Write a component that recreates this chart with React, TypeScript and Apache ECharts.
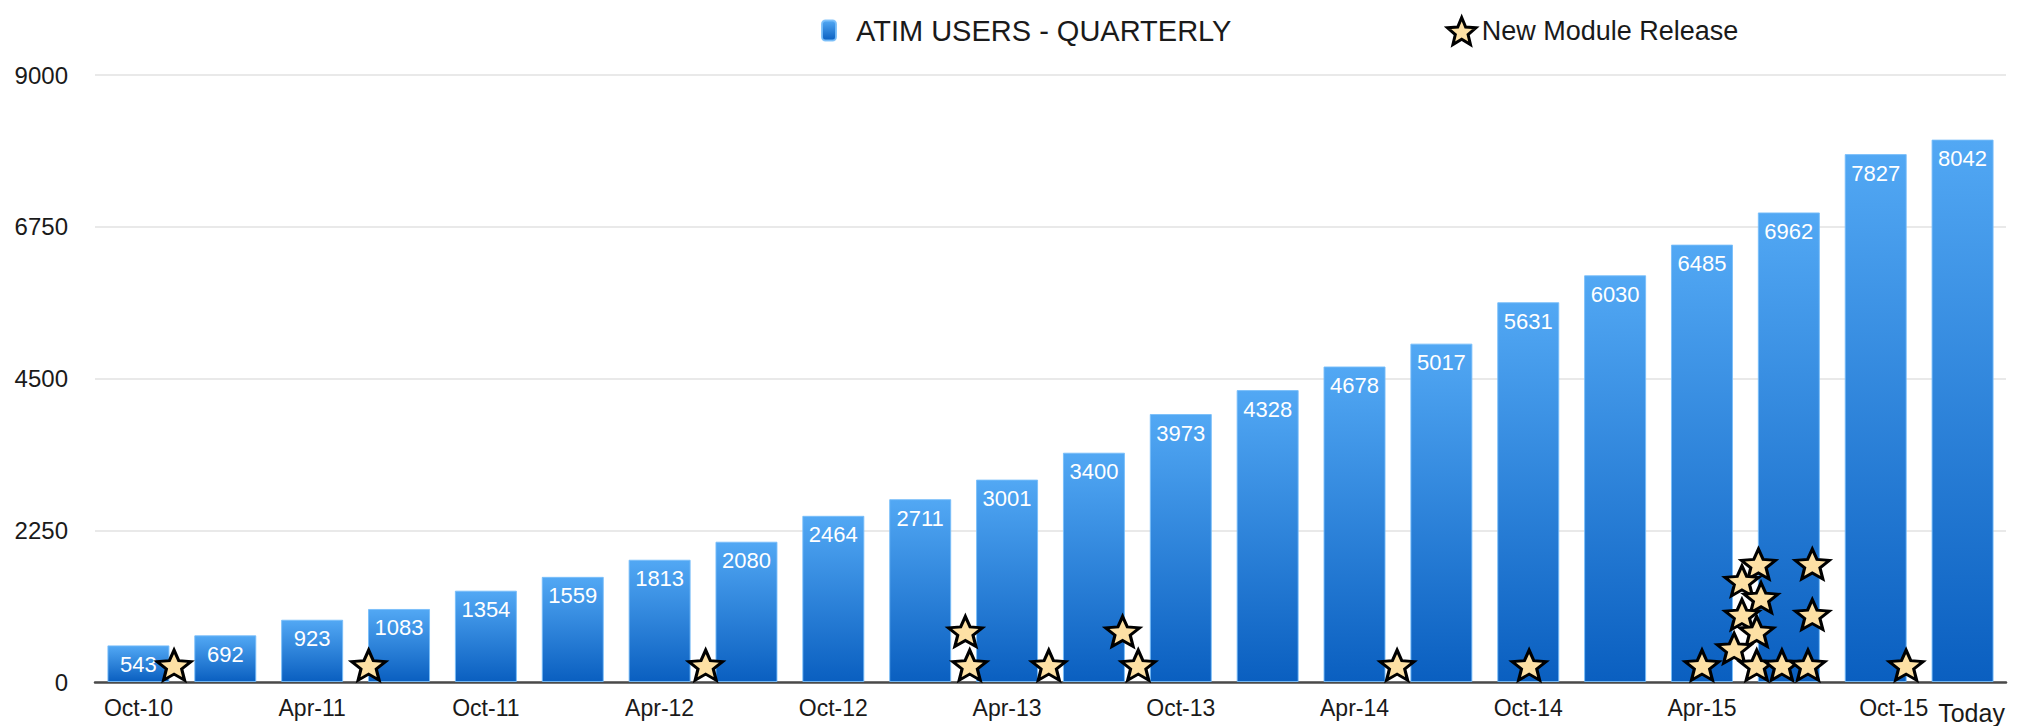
import React, { useEffect, useRef } from 'react';
import * as echarts from 'echarts';

const FONT = '"Liberation Sans", Arial, Helvetica, sans-serif';

const categories = ['Oct-10', 'Jan-11', 'Apr-11', 'Jul-11', 'Oct-11', 'Jan-12', 'Apr-12', 'Jul-12', 'Oct-12', 'Jan-13', 'Apr-13', 'Jul-13', 'Oct-13', 'Jan-14', 'Apr-14', 'Jul-14', 'Oct-14', 'Jan-15', 'Apr-15', 'Jul-15', 'Oct-15', 'Today'];
const users = [543, 692, 923, 1083, 1354, 1559, 1813, 2080, 2464, 2711, 3001, 3400, 3973, 4328, 4678, 5017, 5631, 6030, 6485, 6962, 7827, 8042];

// module release markers: position along the quarter axis (in bar-index units) and stacking height
const releaseX = [0.41, 2.65, 6.53, 9.52, 9.57, 10.48, 11.33, 11.51, 14.49, 16.01, 18.0, 18.65, 19.27, 18.46, 18.68, 18.46, 19.27, 18.63, 18.37, 18.63, 18.92, 19.22, 20.35];
const releaseY = [250, 250, 250, 750, 250, 250, 750, 250, 250, 250, 250, 1750, 1750, 1500, 1250, 1000, 1000, 750, 500, 250, 250, 250, 250];

const yTicks = { min: 0, max: 9000, interval: 2250 };

const STAR = 'path://M50,0 L63.23,31.8 L97.55,34.55 L71.4,56.95 L79.39,90.45 L50,72.5 L20.61,90.45 L28.6,56.95 L2.45,34.55 L36.77,31.8 Z';

const BAR_SERIES = 'ATIM USERS - QUARTERLY';
const STAR_SERIES = 'New Module Release';

export default function App() {
  const ref = useRef<HTMLDivElement>(null);

  useEffect(() => {
    if (!ref.current) return;
    const chart = echarts.init(ref.current, null, { renderer: 'svg' });
    const barGradient = new echarts.graphic.LinearGradient(0, 0, 0, 1, [
      { offset: 0, color: '#52a8f4' },
      { offset: 1, color: '#0a5fc0' },
    ]);
    const starStyle = { color: '#fde0a4', borderColor: '#000000', borderWidth: 3, opacity: 1 };
    chart.setOption({
      animation: false,
      backgroundColor: '#ffffff',
      textStyle: { fontFamily: FONT },
      grid: { left: 95, right: 24, top: 75, bottom: 44, containLabel: false },
      legend: [
        {
          data: [{ name: BAR_SERIES }],
          left: 821,
          top: 16,
          padding: 0,
          itemWidth: 14,
          itemHeight: 20,
          selectedMode: false,
          formatter: (n: string) => '{a|' + n + '}',
          textStyle: {
            fontFamily: FONT,
            fontSize: 29,
            color: '#1a1a1a',
            rich: { a: { fontFamily: FONT, fontSize: 29, color: '#1a1a1a', padding: [0, 0, 0, 15] } },
          },
        },
        {
          data: [{ name: STAR_SERIES, icon: STAR, itemStyle: starStyle }],
          left: 1446,
          top: 16,
          padding: 0,
          itemWidth: 30,
          itemHeight: 27,
          selectedMode: false,
          textStyle: { fontFamily: FONT, fontSize: 27, color: '#1a1a1a' },
        },
      ],
      xAxis: [
        {
          type: 'category',
          data: categories,
          boundaryGap: true,
          axisTick: { show: false },
          axisLine: { lineStyle: { color: '#4a4a4a', width: 2.5 } },
          axisLabel: {
            interval: (i: number) => i % 2 === 0 || i === categories.length - 1,
            margin: 14,
            fontSize: 23,
            fontFamily: FONT,
            color: '#1a1a1a',
            formatter: (v: string) => (v === 'Today' ? '{t|' + v + '}' : v === 'Oct-15' ? '{s|' + v + '}' : v),
            rich: {
              t: { fontFamily: FONT, fontSize: 25, color: '#1a1a1a', padding: [4, 0, 0, 18] },
              s: { fontFamily: FONT, fontSize: 23, color: '#1a1a1a', padding: [0, 0, 0, 36] },
            },
          },
        },
        { type: 'value', min: -0.5, max: categories.length - 0.5, show: false },
      ],
      yAxis: {
        type: 'value',
        min: yTicks.min,
        max: yTicks.max,
        interval: yTicks.interval,
        axisLine: { show: false },
        axisTick: { show: false },
        axisLabel: { fontSize: 24, margin: 27, color: '#1a1a1a', fontFamily: FONT, formatter: (v: number) => String(v) },
        splitLine: { lineStyle: { color: '#e2e2e2', width: 1.5 } },
      },
      series: [
        {
          type: 'bar',
          name: BAR_SERIES,
          data: users,
          barWidth: 62,
          itemStyle: { color: barGradient, borderColor: 'rgba(120,190,250,0.9)', borderWidth: 1 },
          label: { show: true, position: 'insideTop', distance: 8, color: '#ffffff', fontSize: 22, fontFamily: FONT },
          z: 2,
        },
        {
          type: 'scatter',
          name: STAR_SERIES,
          xAxisIndex: 1,
          data: releaseX.map((x, i) => [x, releaseY[i]]),
          symbol: STAR,
          symbolSize: [34, 30],
          itemStyle: starStyle,
          z: 5,
        },
      ],
    });
    return () => chart.dispose();
  }, []);

  return (
    <div
      ref={ref}
      style={{ position: 'fixed', left: 0, top: 0, width: 2030, height: 726, background: '#ffffff' }}
    />
  );
}
